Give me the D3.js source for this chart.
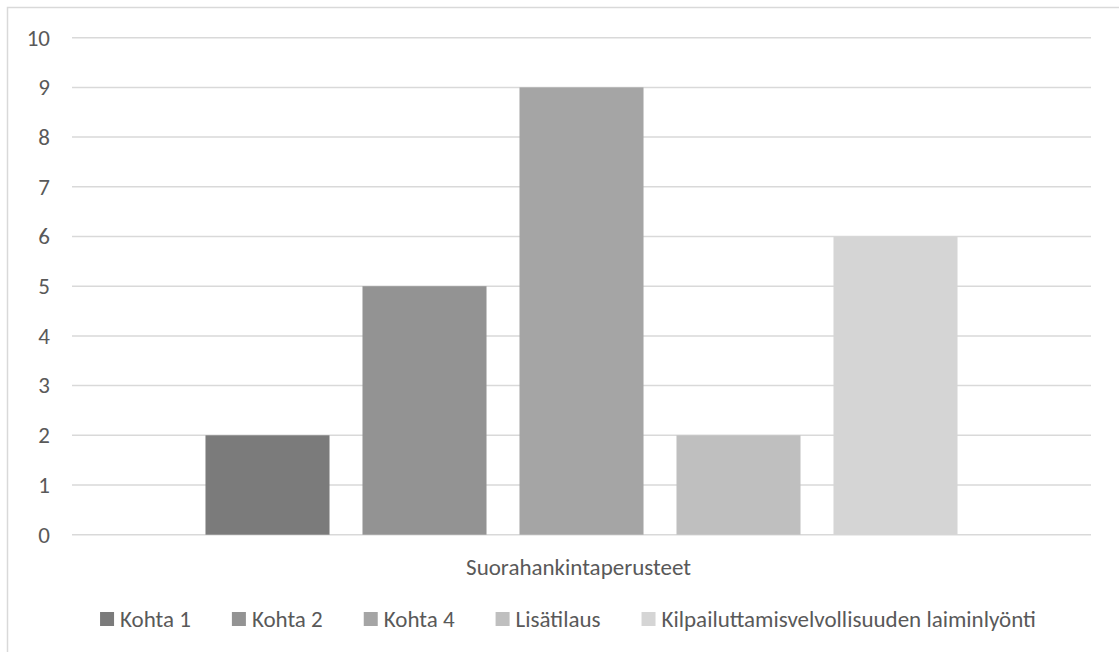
<!DOCTYPE html>
<html>
<head>
<meta charset="utf-8">
<script src="https://cdn.jsdelivr.net/npm/d3@7"></script>
<style>
  html, body { margin: 0; padding: 0; background: #fff; }
  svg { display: block; }
  text { font-family: Carlito, Calibri, Lato, "Open Sans", sans-serif; fill: #595959; }
</style>
</head>
<body>
<svg id="chart" width="1119" height="652"></svg>
<script>
// ---- data ----
const categories = ["Suorahankintaperusteet"];
const seriesNames = ["Kohta 1", "Kohta 2", "Kohta 4", "Lisätilaus", "Kilpailuttamisvelvollisuuden laiminlyönti"];
const seriesValues = [2, 5, 9, 2, 6];
const seriesColors = ["#7b7b7b", "#939393", "#a5a5a5", "#bfbfbf", "#d5d5d5"];
const yTicks = [0, 1, 2, 3, 4, 5, 6, 7, 8, 9, 10];

const svg = d3.select("#chart");
const plot = { left: 72, right: 1091, top: 37.7, bottom: 534.7 };
const fontSize = 23;

// chart border (extends beyond right/bottom edges like the reference crop)
svg.append("rect")
  .attr("x", 7.5).attr("y", 7.5)
  .attr("width", 1200).attr("height", 700)
  .attr("fill", "#fff").attr("stroke", "#d9d9d9").attr("stroke-width", 1.5);

const y = d3.scaleLinear().domain([0, 10]).range([plot.bottom, plot.top]);
const x0 = d3.scaleBand().domain(categories).range([plot.left, plot.right])
  .paddingInner(0).paddingOuter(0.1775);
const x1 = d3.scaleBand().domain(seriesNames).range([0, x0.bandwidth()])
  .paddingInner(0.21).paddingOuter(0);

// gridlines
svg.append("g").selectAll("line").data(yTicks).join("line")
  .attr("x1", plot.left).attr("x2", plot.right)
  .attr("y1", d => y(d)).attr("y2", d => y(d))
  .attr("stroke", "#d9d9d9").attr("stroke-width", 1.5);

// y axis labels
const yAxis = d3.axisLeft(y).tickValues(yTicks).tickSize(0).tickPadding(0);
const ya = svg.append("g").attr("transform", `translate(50,0)`).call(yAxis);
ya.select(".domain").remove();
ya.selectAll("text").attr("font-size", fontSize).attr("fill", "#595959");
ya.attr("font-family", null).attr("font-size", null);

// bars
const data = seriesNames.map((s, i) => ({ cat: categories[0], name: s, value: seriesValues[i], color: seriesColors[i] }));
svg.append("g").selectAll("rect").data(data).join("rect")
  .attr("x", d => x0(d.cat) + x1(d.name))
  .attr("width", x1.bandwidth())
  .attr("y", d => y(d.value))
  .attr("height", d => y(0) - y(d.value))
  .attr("fill", d => d.color);

// axis (category) title
svg.append("text")
  .attr("x", x0(categories[0]) + x0.bandwidth() / 2 - 3)
  .attr("y", 575)
  .attr("text-anchor", "middle")
  .attr("font-size", fontSize)
  .text(categories[0]);

// legend
const legend = svg.append("g");
const sq = 14, sqGap = 6, itemGap = 41;
const items = legend.selectAll("g").data(data).join("g");
items.append("rect").attr("width", sq).attr("height", sq).attr("y", 612)
  .attr("fill", d => d.color);
items.append("text").attr("x", sq + sqGap).attr("y", 627)
  .attr("font-size", fontSize).text(d => d.name);
let widths = [];
items.each(function() { widths.push(d3.select(this).select("text").node().getComputedTextLength()); });
const total = d3.sum(widths) + data.length * (sq + sqGap) + itemGap * (data.length - 1);
let cx = 568 - total / 2;
items.each(function(d, i) {
  d3.select(this).attr("transform", `translate(${cx},0)`);
  cx += sq + sqGap + widths[i] + itemGap;
});
</script>
</body>
</html>
